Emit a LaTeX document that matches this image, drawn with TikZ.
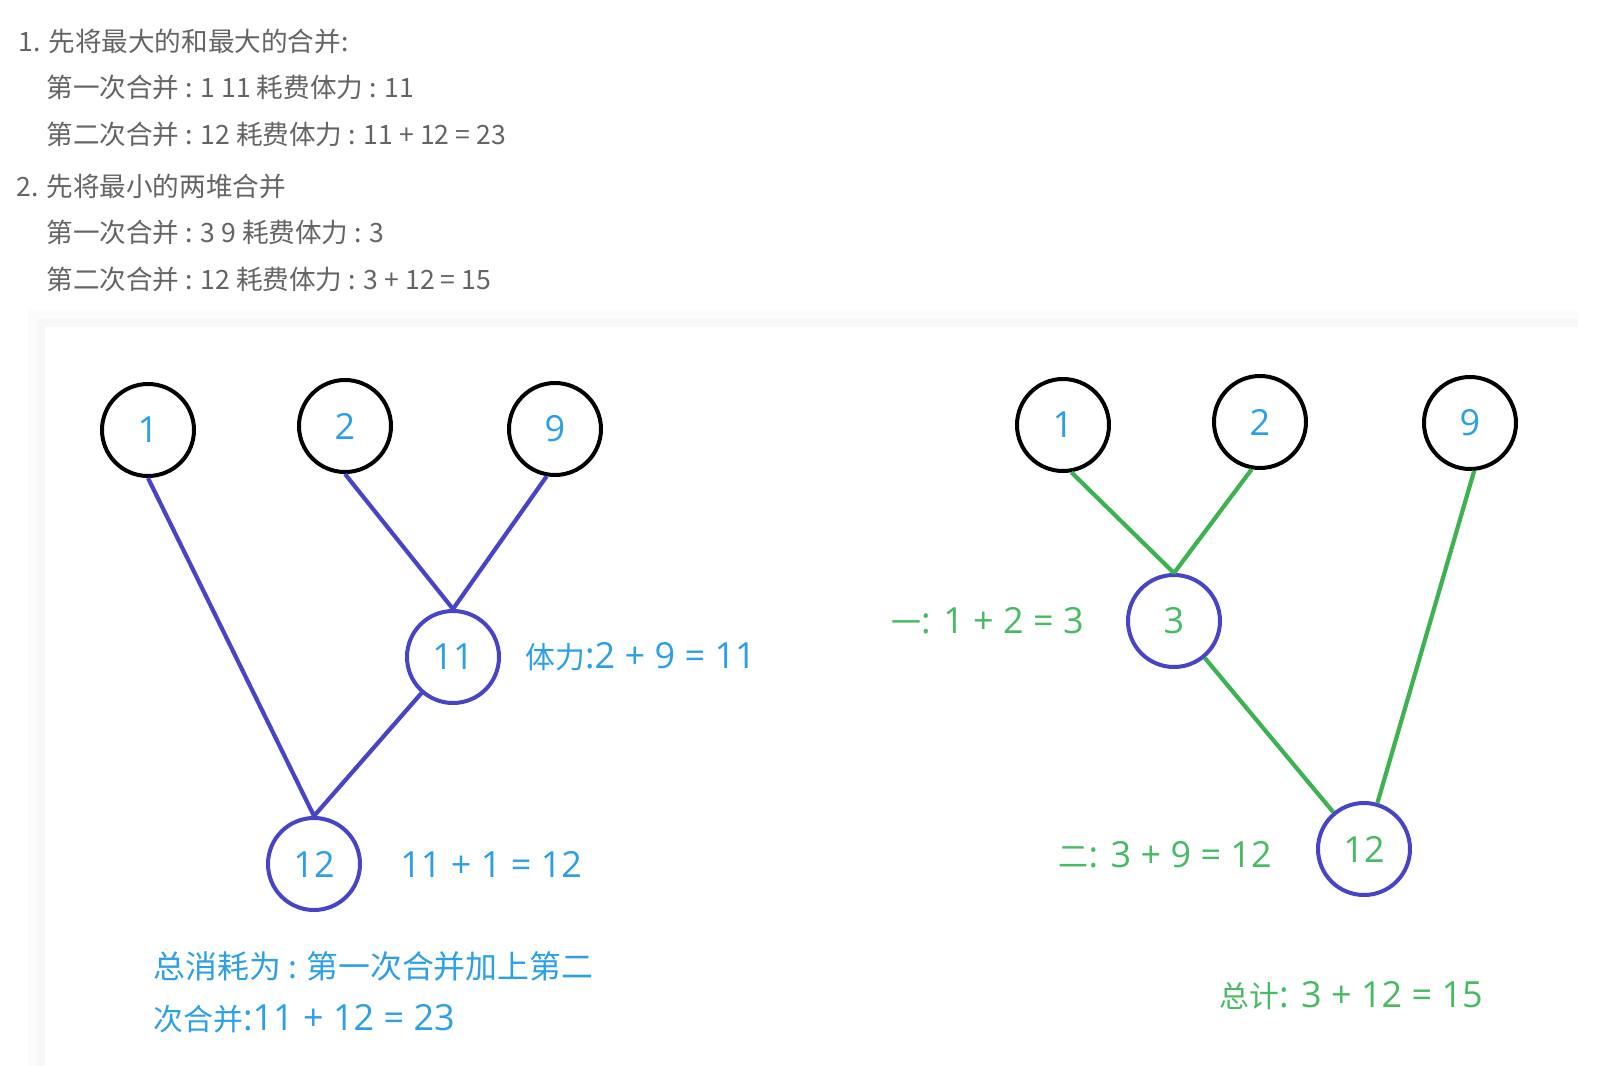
\documentclass[tikz,border=0pt]{standalone}
\usepackage{fontspec}
\setmainfont{Open Sans}
\newfontfamily\cjk{Noto Sans CJK SC}
\newfontfamily\cjks{Noto Sans CJK SC}[Scale=0.83]
\usetikzlibrary{positioning}
\definecolor{numblue}{RGB}{43,160,230}
\definecolor{edgeblue}{RGB}{72,68,200}
\definecolor{edgegreen}{RGB}{60,178,80}
\definecolor{txtgreen}{RGB}{72,186,100}
\definecolor{txtgray}{RGB}{100,100,100}
\tikzset{
  heap/.style={circle,draw=black,line width=2pt,minimum size=46pt,inner sep=0pt,
    font=\fontsize{18}{20}\selectfont,text=numblue},
  merged/.style={heap,draw=edgeblue},
  note/.style={anchor=west,inner sep=0pt,font=\cjk\fontsize{13.3}{15}\selectfont,text=txtgray},
  lbl/.style={inner sep=0pt,font=\fontsize{18}{20}\selectfont,text=numblue},
  link/.style={line width=2.1pt},
}

\begin{document}
\begin{tikzpicture}[x=0.5pt,y=-0.5pt]
\useasboundingbox (0,0) rectangle (1603,1066);
\fill[white] (0,0) rectangle (1603,1066);
\fill[black!1.5] (28,310) rectangle (1578,1066);
\fill[black!3] (37,319) rectangle (1578,1066);
\fill[white] (45,327) rectangle (1578,1066);

% notes on top
\node[note] (n1) at (18,41) {1. 先将最大的和最大的合并:};
\node[note] (n2) at (46,87) {第一次合并 : 1 11 耗费体力 : 11};
\node[note] (n3) at (46,134) {第二次合并 : 12 耗费体力 : 11 + 12 = 23};
\node[note] (n4) at (16,186) {2. 先将最小的两堆合并};
\node[note] (n5) at (46,232) {第一次合并 : 3 9 耗费体力 : 3};
\node[note] (n6) at (46,279) {第二次合并 : 12 耗费体力 : 3 + 12 = 15};

% left tree: largest first
\node[heap] (a1) at (148,430) {1};
\node[heap] (a2) at (345,426) {2};
\node[heap] (a9) at (555,429) {9};
\node[merged] (a11) at (453,657) {11};
\node[merged] (a12) at (314,864) {12};

\draw[edgeblue,link]
  (a2.south) -- (a11.north)
  (a9.-100) -- (a11.north)
  (a1.south) -- (a12.north)
  (a11) -- (a12.north);

\node[lbl,right=12pt of a11] (la11) {{\cjks 体力}:2 + 9 = 11};
\node[lbl,right=19pt of a12] (la12) {11 + 1 = 12};
\node[lbl,anchor=west,font=\cjks\fontsize{19.2}{21}\selectfont] (sa1) at (153,966) {总消耗为 : 第一次合并加上第二};
\node[lbl,anchor=west] (sa2) at (153,1019) {{\cjks 次合并}:11 + 12 = 23};

% right tree: smallest first
\node[heap] (b1) at (1063,425) {1};
\node[heap] (b2) at (1260,422) {2};
\node[heap] (b9) at (1470,423) {9};
\node[merged,text=txtgreen] (b3) at (1174,621) {3};
\node[merged,text=txtgreen] (b12) at (1364,849) {12};

\draw[edgegreen,link]
  (b1.-80) -- (b3.north)
  (b2.-100) -- (b3.north)
  (b3) -- (b12)
  (b9.-85) -- (b12);

\node[lbl,text=txtgreen,left=21pt of b3] (lb3) {{\cjks 一}: 1 + 2 = 3};
\node[lbl,text=txtgreen,left=22pt of b12,yshift=-3pt] (lb12) {{\cjks 二}: 3 + 9 = 12};
\node[lbl,text=txtgreen,anchor=west] (sb) at (1219,996) {{\cjks 总计}: 3 + 12 = 15};

\end{tikzpicture}
\end{document}
